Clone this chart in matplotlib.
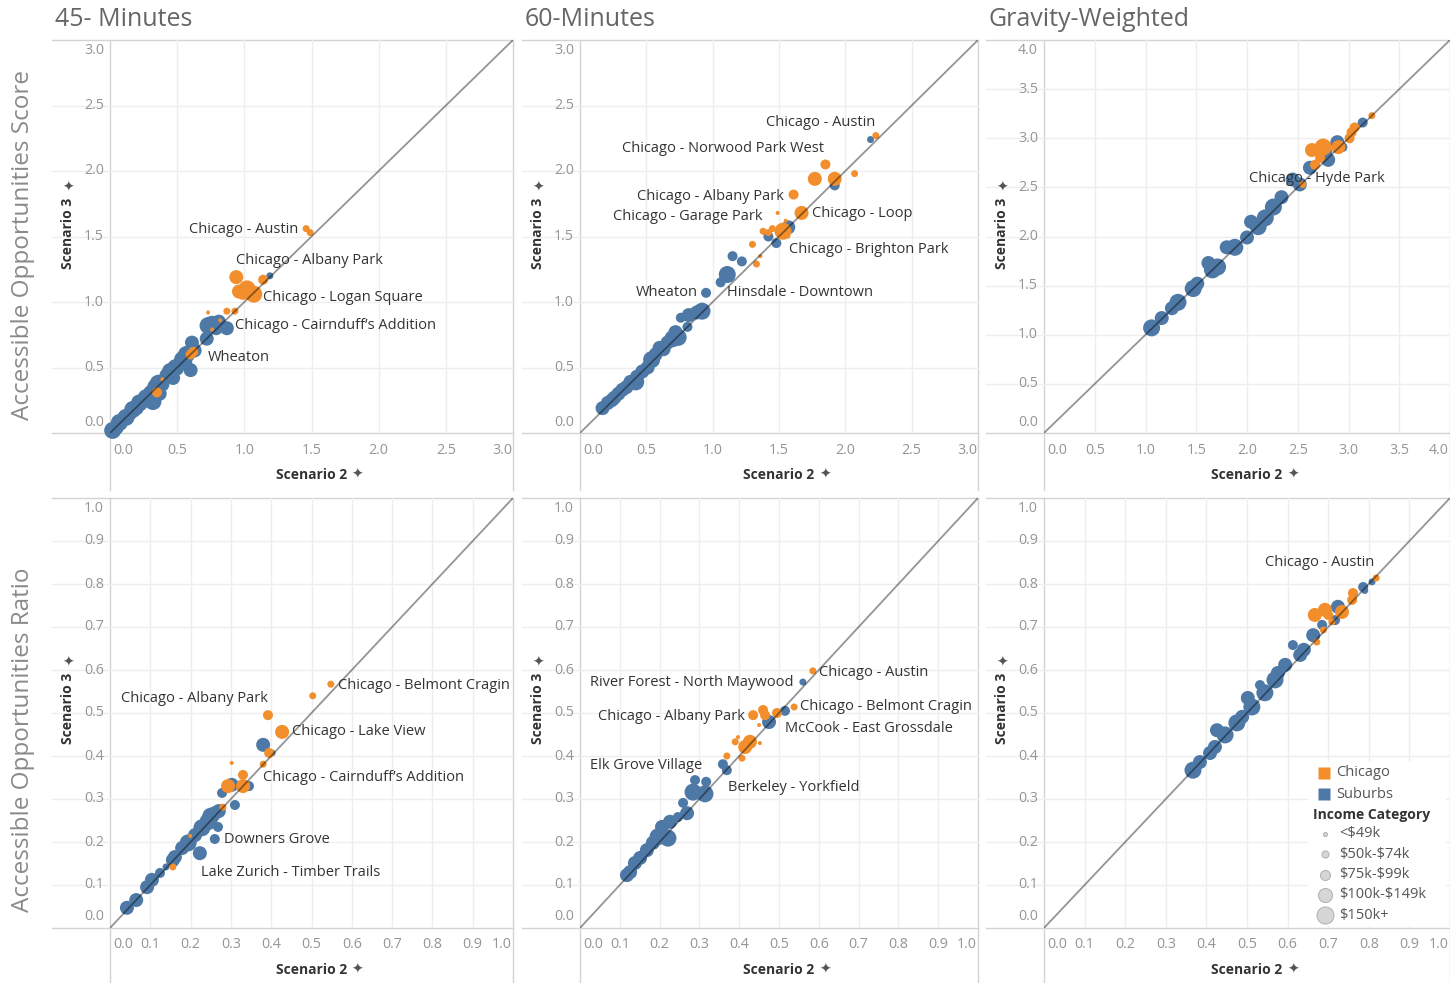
import matplotlib
matplotlib.use("Agg")
import matplotlib.pyplot as plt
from matplotlib.lines import Line2D
from matplotlib.patches import Rectangle

# ---------------------------------------------------------------- data
# Each point: (Scenario 2, Scenario 3, income category index)
INCOME_LABELS = ["<$49k", "$50k-$74k", "$75k-$99k", "$100k-$149k", "$150k+"]
AREAS = ["Chicago", "Suburbs"]

score45_suburbs = [
    (0.02, 0.02, 4), (0.05, 0.04, 3), (0.07, 0.08, 4), (0.10, 0.11, 3), (0.12, 0.12, 4),
    (0.15, 0.15, 3), (0.17, 0.18, 4), (0.20, 0.19, 3), (0.22, 0.23, 4), (0.25, 0.25, 3),
    (0.27, 0.27, 4), (0.30, 0.31, 3), (0.32, 0.24, 4), (0.29, 0.27, 3), (0.34, 0.35, 4),
    (0.36, 0.38, 4), (0.39, 0.37, 3), (0.37, 0.30, 3), (0.42, 0.44, 3), (0.45, 0.47, 4),
    (0.47, 0.42, 3), (0.49, 0.50, 4), (0.52, 0.53, 3), (0.54, 0.56, 4), (0.56, 0.54, 3),
    (0.57, 0.60, 4), (0.60, 0.48, 3), (0.61, 0.69, 3), (0.63, 0.63, 3), (0.72, 0.72, 3),
    (0.73, 0.82, 4), (0.76, 0.83, 4), (0.79, 0.80, 3), (0.81, 0.85, 3), (0.87, 0.80, 3),
    (1.19, 1.20, 1),
]
score45_chicago = [
    (1.46, 1.56, 1), (1.49, 1.53, 1), (0.94, 1.19, 3), (1.14, 1.17, 2), (0.96, 1.08, 3),
    (0.99, 1.07, 3), (1.02, 1.10, 4), (1.07, 1.06, 4), (0.73, 0.92, 0), (0.87, 0.93, 1),
    (0.93, 0.93, 1), (0.82, 0.86, 0), (0.76, 0.79, 0), (0.60, 0.60, 2), (0.62, 0.62, 2),
    (0.35, 0.31, 2), (0.39, 0.41, 0),
]
score45_names = ["Chicago - Austin", "Chicago - Albany Park", "Chicago - Logan Square",
                 "Chicago - Cairnduff\u2019s Addition", "Wheaton"]

score60_suburbs = [
    (0.17, 0.19, 3), (0.21, 0.23, 3), (0.24, 0.25, 3), (0.26, 0.27, 3), (0.29, 0.30, 3),
    (0.32, 0.33, 3), (0.35, 0.35, 3), (0.38, 0.39, 3), (0.42, 0.39, 4), (0.43, 0.43, 3),
    (0.47, 0.47, 3), (0.51, 0.50, 3), (0.54, 0.56, 4), (0.57, 0.60, 3), (0.60, 0.65, 3),
    (0.63, 0.64, 3), (0.66, 0.69, 3), (0.70, 0.72, 4), (0.72, 0.77, 3), (0.74, 0.73, 4),
    (0.81, 0.81, 2), (0.76, 0.88, 2), (0.82, 0.90, 3), (0.88, 0.92, 3), (0.92, 0.93, 4),
    (0.95, 1.07, 2), (1.06, 1.15, 2), (1.11, 1.21, 4), (1.15, 1.35, 2), (1.22, 1.31, 2),
    (1.42, 1.50, 2), (1.48, 1.45, 2), (1.57, 1.57, 3), (1.92, 1.89, 2), (2.19, 2.24, 1),
]
score60_chicago = [
    (2.23, 2.27, 1), (1.85, 2.05, 2), (1.77, 1.94, 3), (1.92, 1.94, 3), (2.07, 1.98, 1),
    (1.61, 1.82, 2), (1.67, 1.68, 3), (1.49, 1.68, 0), (1.38, 1.54, 1), (1.45, 1.56, 1),
    (1.42, 1.53, 1), (1.53, 1.54, 4), (1.55, 1.62, 0), (1.57, 1.50, 0), (1.30, 1.44, 1),
    (1.36, 1.35, 0), (1.33, 1.29, 1),
]
score60_names = ["Chicago - Austin", "Chicago - Norwood Park West", "Chicago - Albany Park",
                 "Chicago - Garage Park", "Chicago - Loop", "Chicago - Brighton Park",
                 "Wheaton", "Hinsdale - Downtown"]

scoregw_suburbs = [
    (1.06, 1.07, 4), (1.16, 1.17, 3), (1.26, 1.27, 3), (1.32, 1.33, 4), (1.47, 1.47, 4),
    (1.51, 1.52, 3), (1.62, 1.73, 3), (1.66, 1.66, 4), (1.71, 1.69, 4), (1.80, 1.89, 3),
    (1.88, 1.89, 4), (2.00, 1.99, 3), (2.04, 2.15, 3), (2.11, 2.10, 4), (2.18, 2.19, 4),
    (2.26, 2.30, 4), (2.34, 2.40, 3), (2.45, 2.58, 3), (2.52, 2.53, 3), (2.62, 2.70, 3),
    (2.80, 2.78, 3), (2.79, 2.86, 2), (2.89, 2.96, 3), (2.94, 2.91, 2), (3.14, 3.16, 2),
]
scoregw_chicago = [
    (2.55, 2.53, 1), (2.67, 2.73, 2), (2.64, 2.88, 3), (2.75, 2.91, 4), (2.72, 2.80, 2),
    (2.90, 2.91, 3), (3.01, 3.00, 2), (3.03, 3.06, 2), (3.06, 3.11, 2), (3.23, 3.23, 1),
]
scoregw_names = ["Chicago - Hyde Park"]

ratio45_suburbs = [
    (0.042, 0.047, 3), (0.065, 0.065, 3), (0.092, 0.095, 3), (0.104, 0.112, 3),
    (0.124, 0.128, 2), (0.139, 0.142, 1), (0.156, 0.158, 3), (0.161, 0.165, 3),
    (0.179, 0.186, 3), (0.194, 0.198, 4), (0.211, 0.216, 3), (0.228, 0.233, 4),
    (0.243, 0.247, 4), (0.250, 0.260, 4), (0.268, 0.235, 2), (0.260, 0.267, 3),
    (0.270, 0.272, 3), (0.223, 0.174, 3), (0.260, 0.207, 2), (0.278, 0.314, 2),
    (0.310, 0.286, 2), (0.302, 0.333, 3), (0.345, 0.330, 2), (0.380, 0.426, 3),
    (0.402, 0.407, 1),
]
ratio45_chicago = [
    (0.548, 0.567, 1), (0.503, 0.540, 1), (0.392, 0.495, 2), (0.427, 0.456, 3),
    (0.395, 0.407, 2), (0.302, 0.384, 0), (0.380, 0.381, 1), (0.330, 0.356, 2),
    (0.293, 0.330, 3), (0.330, 0.330, 3), (0.280, 0.281, 1), (0.156, 0.142, 1),
    (0.199, 0.214, 0),
]
ratio45_names = ["Chicago - Belmont Cragin", "Chicago - Albany Park", "Chicago - Lake View",
                 "Chicago - Cairnduff\u2019s Addition", "Downers Grove",
                 "Lake Zurich - Timber Trails"]

ratio60_suburbs = [
    (0.118, 0.123, 3), (0.126, 0.130, 3), (0.138, 0.151, 3), (0.151, 0.163, 3),
    (0.168, 0.181, 3), (0.183, 0.198, 3), (0.196, 0.212, 4), (0.221, 0.209, 4),
    (0.206, 0.235, 3), (0.226, 0.247, 3), (0.246, 0.258, 2), (0.269, 0.267, 3),
    (0.259, 0.291, 2), (0.284, 0.316, 4), (0.314, 0.312, 4), (0.289, 0.344, 2),
    (0.317, 0.340, 2), (0.359, 0.381, 2), (0.369, 0.367, 2), (0.475, 0.479, 3),
    (0.515, 0.505, 2), (0.560, 0.572, 1),
]
ratio60_chicago = [
    (0.585, 0.598, 1), (0.538, 0.514, 1), (0.495, 0.500, 2), (0.435, 0.495, 2),
    (0.460, 0.507, 2), (0.465, 0.495, 2), (0.450, 0.472, 0), (0.427, 0.433, 3),
    (0.415, 0.421, 3), (0.390, 0.433, 1), (0.397, 0.444, 0), (0.452, 0.430, 0),
    (0.407, 0.395, 1), (0.369, 0.400, 1),
]
ratio60_names = ["River Forest - North Maywood", "Chicago - Austin", "Chicago - Albany Park",
                 "Chicago - Belmont Cragin", "McCook - East Grossdale", "Elk Grove Village",
                 "Berkeley - Yorkfield"]

ratiogw_suburbs = [
    (0.367, 0.367, 4), (0.384, 0.386, 3), (0.409, 0.407, 3), (0.421, 0.421, 3),
    (0.426, 0.460, 3), (0.446, 0.449, 4), (0.475, 0.477, 4), (0.488, 0.491, 3),
    (0.502, 0.535, 3), (0.512, 0.514, 4), (0.532, 0.565, 2), (0.544, 0.547, 4),
    (0.569, 0.577, 4), (0.576, 0.593, 3), (0.594, 0.612, 3), (0.613, 0.658, 2),
    (0.631, 0.635, 3), (0.640, 0.647, 3), (0.663, 0.681, 3), (0.685, 0.705, 2),
    (0.724, 0.747, 3), (0.717, 0.716, 2), (0.786, 0.793, 2), (0.790, 0.785, 1),
    (0.808, 0.805, 1),
]
ratiogw_chicago = [
    (0.672, 0.665, 1), (0.688, 0.693, 1), (0.667, 0.728, 3), (0.692, 0.740, 3),
    (0.700, 0.728, 2), (0.734, 0.735, 3), (0.709, 0.712, 1), (0.759, 0.763, 2),
    (0.761, 0.779, 2), (0.818, 0.814, 1),
]
ratiogw_names = ["Chicago - Austin"]

column_titles = ["45- Minutes", "60-Minutes", "Gravity-Weighted"]
row_titles = ["Accessible Opportunities Score", "Accessible Opportunities Ratio"]
x_title = "Scenario 2"
y_title = "Scenario 3"
PIN = "\u2726"

# ---------------------------------------------------------------- layout
W, H, DPI = 1450, 983, 100
ORANGE, BLUE = "#F28E2B", "#4E79A7"
AREA_COLOR = {"Chicago": ORANGE, "Suburbs": BLUE}
MARK_DIAM_PX = [4, 7, 10, 14, 17]
FONT = ["Open Sans", "DejaVu Sans"]
FRAME = "#d3d3d3"
GRID = "#eeeeee"
TICK_COLOR = "#959595"

# (label area left, plot left, plot right) for each column, in pixels
COLS = [(52, 110, 513), (522, 580, 978), (986, 1044, 1450)]
# (plot top, plot bottom, axis area bottom) for each row, in pixels
ROWS = [(40, 433, 490), (498, 928, 983)]
ROW_TITLE_Y = [245, 740]

# label anchors (left edge, vertical centre) in data units
score45_name_xy = [(0.588, 1.557), (0.938, 1.313), (1.139, 1.038), (0.930, 0.824), (0.730, 0.573)]
score60_name_xy = [(1.402, 2.374), (0.317, 2.168), (0.430, 1.809), (0.249, 1.656),
                   (1.749, 1.672), (1.575, 1.397), (0.422, 1.069), (1.108, 1.076)]
scoregw_name_xy = [(2.02, 2.595)]
ratio45_name_xy = [(0.566, 0.565), (0.027, 0.533), (0.452, 0.456), (0.380, 0.349),
                   (0.283, 0.205), (0.226, 0.130)]
ratio60_name_xy = [(0.025, 0.572), (0.600, 0.595), (0.045, 0.493), (0.553, 0.516),
                   (0.515, 0.465), (0.025, 0.379), (0.372, 0.326)]
ratiogw_name_xy = [(0.544, 0.849)]

panels = [
    # row, col, max, step, suburbs, chicago, names, name anchors
    (0, 0, 3.0, 0.5, score45_suburbs, score45_chicago, score45_names, score45_name_xy),
    (0, 1, 3.0, 0.5, score60_suburbs, score60_chicago, score60_names, score60_name_xy),
    (0, 2, 4.0, 0.5, scoregw_suburbs, scoregw_chicago, scoregw_names, scoregw_name_xy),
    (1, 0, 1.0, 0.1, ratio45_suburbs, ratio45_chicago, ratio45_names, ratio45_name_xy),
    (1, 1, 1.0, 0.1, ratio60_suburbs, ratio60_chicago, ratio60_names, ratio60_name_xy),
    (1, 2, 1.0, 0.1, ratiogw_suburbs, ratiogw_chicago, ratiogw_names, ratiogw_name_xy),
]

fig = plt.figure(figsize=(W / DPI, H / DPI), dpi=DPI)
fig.patch.set_facecolor("white")

# full-figure overlay in pixel coordinates for frames and headers
ov = fig.add_axes([0, 0, 1, 1])
ov.set_xlim(0, W)
ov.set_ylim(H, 0)
ov.axis("off")


def px_rect(left, top, right, bottom):
    return [left / W, 1 - bottom / H, (right - left) / W, (bottom - top) / H]


def msize(idx):
    return (MARK_DIAM_PX[idx] * 72 / DPI) ** 2


title_style = dict(fontsize=10, fontweight="bold", color="#333333", family=FONT,
                   annotation_clip=False, textcoords="offset pixels", va="center")
pin_style = dict(fontsize=10, color="#555555", family=FONT, annotation_clip=False,
                 textcoords="offset pixels", ha="center", va="center")

for row, col, vmax, step, suburbs, chicago, names, name_xy in panels:
    lab_left, left, right = COLS[col]
    top, bottom, axis_bottom = ROWS[row]

    # pane frame
    for y in (top, bottom):
        ov.add_line(Line2D([lab_left, right], [y, y], color=FRAME, lw=1))
    for x in (left, right):
        ov.add_line(Line2D([x, x], [top, axis_bottom], color=FRAME, lw=1))

    ax = fig.add_axes(px_rect(left, top, right, bottom))
    ax.set_facecolor("none")
    ax.set_xlim(0, vmax)
    ax.set_ylim(0, vmax)
    for s in ax.spines.values():
        s.set_visible(False)
    ax.set_xticks([])
    ax.set_yticks([])

    n = int(round(vmax / step))
    ticks = [round(i * step, 2) for i in range(n + 1)]
    ext = (left - lab_left) / (right - left)
    for i, t in enumerate(ticks):
        if 0 < i < n:
            ax.axhline(t, xmin=-ext, xmax=1, color=GRID, lw=1, clip_on=False, zorder=0)
            ax.axvline(t, color=GRID, lw=1, zorder=0)
        # y tick labels
        dy = -11 if i == n else (11 if i == 0 else 0)
        ax.annotate(f"{t:.1f}", xy=(0, t), xycoords=("axes fraction", "data"),
                    xytext=(-6, dy), textcoords="offset pixels", ha="right", va="center",
                    fontsize=10.3, color=TICK_COLOR, family=FONT, annotation_clip=False)
        # x tick labels
        if i == 0:
            ha, dx = "left", 3
        elif i == n:
            ha, dx = "right", -1
        else:
            ha, dx = "center", 0
        ax.annotate(f"{t:.1f}", xy=(t, 0), xycoords=("data", "axes fraction"),
                    xytext=(dx, -17), textcoords="offset pixels", ha=ha, va="center",
                    fontsize=10.3, color=TICK_COLOR, family=FONT, annotation_clip=False)

    # axis titles with their pin glyphs
    ax.annotate(x_title, xy=(0.5, 0), xycoords="axes fraction", xytext=(0, -42),
                ha="center", **title_style)
    ax.annotate(PIN, xy=(0.5, 0), xycoords="axes fraction", xytext=(46, -42), **pin_style)
    dyt = 3 if row == 0 else 5
    ax.annotate(y_title, xy=(0, 0.5), xycoords="axes fraction", xytext=(-42, dyt),
                ha="center", rotation=90, **title_style)
    ax.annotate(PIN, xy=(0, 0.5), xycoords="axes fraction", xytext=(-42, dyt + 45),
                **pin_style)

    # marks: larger circles first so the small ones stay visible
    for area, pts in (("Suburbs", suburbs), ("Chicago", chicago)):
        pts_sorted = sorted(pts, key=lambda p: -p[2])
        ax.scatter([p[0] for p in pts_sorted], [p[1] for p in pts_sorted],
                   s=[msize(p[2]) for p in pts_sorted], color=AREA_COLOR[area],
                   edgecolors="none", zorder=3, clip_on=False)

    # identity line
    ax.plot([0, vmax], [0, vmax], color="black", alpha=0.42, lw=1.3, zorder=4)

    for name, (nx, ny) in zip(names, name_xy):
        ax.text(nx, ny, name, ha="left", va="center", fontsize=10.5, color="#333333",
                family=FONT, zorder=5)

# column and row headers
for (lab_left, left, right), title in zip(COLS, column_titles):
    ov.text(lab_left + 3, 20, title, ha="left", va="center", fontsize=18,
            color="#666666", family=FONT)
for y, title in zip(ROW_TITLE_Y, row_titles):
    ov.text(23, y, title, ha="center", va="center", rotation=90,
            fontsize=17.5, color="#8a8a8a", family=FONT)

# legend, floating on a white card over the last pane
lg = fig.add_axes([0, 0, 1, 1])
lg.set_xlim(0, W)
lg.set_ylim(H, 0)
lg.axis("off")
lg.add_patch(Rectangle((1308, 762), 138, 164, facecolor="white", edgecolor="none"))
for i, area in enumerate(AREAS):
    y = 773 + 21 * i
    lg.plot([1324.5], [y], marker="s", ms=8, color=AREA_COLOR[area], mec="none")
    lg.text(1336, y, area, ha="left", va="center", fontsize=10.5, color="#555555",
            family=FONT)
lg.text(1313, 815, "Income Category", ha="left", va="center", fontsize=10,
        fontweight="bold", color="#333333", family=FONT)
for i, lab in enumerate(INCOME_LABELS):
    y = 834 + 20.3 * i
    lg.scatter([1325], [y], s=msize(i), color="#d6d6d6", edgecolors="#b5b5b5",
               linewidths=0.8)
    lg.text(1339, y, lab.replace("$", r"\$"), ha="left", va="center", fontsize=10.5,
            color="#555555", family=FONT)

fig.savefig("out.png", dpi=DPI, facecolor="white")
